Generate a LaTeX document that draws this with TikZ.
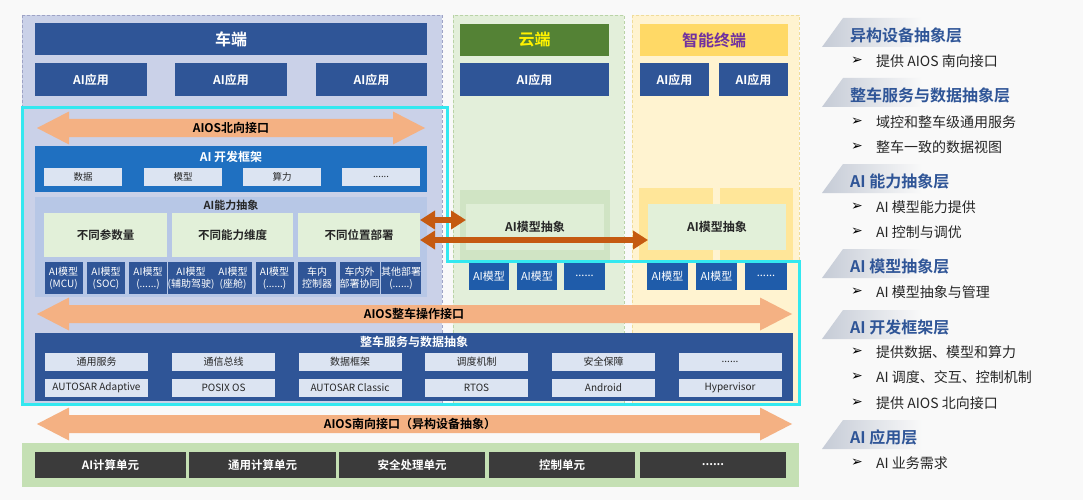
\documentclass[tikz,border=0pt]{standalone}
\usepackage{fontspec}
\setmainfont{Noto Sans CJK SC}[BoldFont={Noto Sans CJK SC Bold}]
\newfontfamily\symfont{DejaVu Sans}
\usetikzlibrary{arrows.meta}
\definecolor{bgwhite}{HTML}{F9F9F9}
\definecolor{carpanel}{HTML}{CAD1E8}
\definecolor{carline}{HTML}{9EA3C6}
\definecolor{cloudpanel}{HTML}{E3EFDA}
\definecolor{cloudline}{HTML}{B9D3A6}
\definecolor{termpanel}{HTML}{FFF3D0}
\definecolor{termline}{HTML}{F0DC9A}
\definecolor{carblue}{HTML}{2F5597}
\definecolor{devblue}{HTML}{1F70C1}
\definecolor{absblue}{HTML}{B7C7E6}
\definecolor{paleblue}{HTML}{DCE4F2}
\definecolor{palegreen}{HTML}{E2F0D9}
\definecolor{cloudhead}{HTML}{548235}
\definecolor{cloudabs}{HTML}{D0E4C4}
\definecolor{termhead}{HTML}{FFD966}
\definecolor{termbar}{HTML}{FFE699}
\definecolor{termtext}{HTML}{7030A0}
\definecolor{modelblue}{HTML}{1F5CAA}
\definecolor{lightorange}{HTML}{F4B183}
\definecolor{darkorange}{HTML}{C55A11}
\definecolor{hwgreen}{HTML}{C5E0B4}
\definecolor{hwdark}{HTML}{3B3B3B}
\definecolor{frame}{HTML}{33E8F0}
\definecolor{darktext}{HTML}{262626}
\definecolor{tabgray}{HTML}{C5CBD6}
\begin{document}
\begin{tikzpicture}[x=1pt, y=-1pt,
  blk/.style={inner sep=0pt, outer sep=0pt, align=center},
  hdr/.style={blk, text=white, font=\bfseries\fontsize{16}{18}\selectfont, minimum height=32pt},
  app/.style={blk, fill=carblue, text=white, font=\bfseries\fontsize{12}{14}\selectfont, minimum height=33pt},
  pale/.style={blk, fill=paleblue, text=darktext, font=\fontsize{9.5}{11}\selectfont, minimum width=78pt, minimum height=18pt},
  ability/.style={blk, fill=palegreen, text=darktext, font=\bfseries\fontsize{11.5}{13}\selectfont, minimum height=44pt},
  model/.style={blk, fill=carblue, text=white, font=\fontsize{10}{12}\selectfont, minimum width=38pt, minimum height=32pt},
  svc/.style={blk, fill=paleblue, text=darktext, font=\fontsize{10}{12}\selectfont, minimum width=103pt, minimum height=18pt},
  hw/.style={blk, fill=hwdark, text=white, font=\bfseries\fontsize{11.5}{13}\selectfont, minimum height=26pt},
  cmodel/.style={blk, fill=modelblue, text=white, font=\fontsize{11}{13}\selectfont, minimum height=28pt},
  absbox/.style={blk, fill=palegreen, text=darktext, font=\bfseries\fontsize{12}{14}\selectfont, minimum width=138pt, minimum height=46pt},
  arrowtext/.style={inner sep=0pt, font=\bfseries\fontsize{12}{14}\selectfont},
  darr/.style={draw=darkorange, line width=6pt, {Triangle[width=18pt,length=15pt]}-{Triangle[width=18pt,length=15pt]}},
  heading/.style={anchor=west, inner sep=0pt, text=carblue, font=\bfseries\fontsize{16}{18}\selectfont},
  legitem/.style={anchor=west, inner sep=0pt, text=darktext, font=\fontsize{14}{16}\selectfont},
  bullet/.style={inner sep=0pt, font=\symfont\fontsize{14}{16}\selectfont}
]
\fill[bgwhite] (0,0) rectangle (1083,500);
\useasboundingbox (0,0) rectangle (1083,500);

% panels
\filldraw[fill=carpanel, draw=carline, densely dashed, line width=0.8pt] (22,15) rectangle (442,404);
\filldraw[fill=cloudpanel, draw=cloudline, densely dashed, line width=0.8pt] (453,15) rectangle (624,404);
\filldraw[fill=termpanel, draw=termline, densely dashed, line width=0.8pt] (632,15) rectangle (799,404);

% vehicle side
\node[hdr, fill=carblue, minimum width=392pt] (car) at (231,39) {车端};
\node[app, minimum width=112pt] (app1) at (91,79.5) {AI应用};
\node[app, minimum width=112pt] (app2) at (231,79.5) {AI应用};
\node[app, minimum width=111pt] (app3) at (371.5,79.5) {AI应用};

\fill[lightorange] (37,128) -- (69,111.5) -- (69,119) -- (393,119) -- (393,111.5) -- (425,128)
  -- (393,144.5) -- (393,137) -- (69,137) -- (69,144.5) -- cycle;
\node[arrowtext] (north) at (231,128) {AIOS北向接口};

\node[blk, fill=devblue, minimum width=392pt, minimum height=46pt] (dev) at (231,169) {};
\node[arrowtext, text=white] (devtitle) at (231,157) {AI 开发框架};
\node[pale] (data) at (83,177) {数据};
\node[pale] (mdl) at (183,177) {模型};
\node[pale] (comp) at (282,177) {算力};
\node[pale] (devmore) at (381,177) {......};

\node[blk, fill=absblue, minimum width=392pt, minimum height=100pt] (ability) at (231,247) {};
\node[arrowtext, text=darktext, font=\bfseries\fontsize{11}{13}\selectfont] (abtitle) at (231,205) {AI能力抽象};
\node[ability, minimum width=123pt] (param) at (105.5,235) {不同参数量};
\node[ability, minimum width=121pt] (dim) at (232.5,235) {不同能力维度};
\node[ability, minimum width=122pt] (loc) at (359,235) {不同位置部署};
\node[model] (m1) at (63.5,278) {AI模型\\(MCU)};
\node[model] (m2) at (106,278) {AI模型\\(SOC)};
\node[model] (m3) at (148,278) {AI模型\\(......)};
\node[model] (m4) at (191,278) {AI模型\\(辅助驾驶)};
\node[model] (m5) at (233,278) {AI模型\\(座舱)};
\node[model] (m6) at (274.5,278) {AI模型\\(......)};
\node[model] (m7) at (317,278) {车内\\控制器};
\node[model] (m8) at (359.5,278) {车内外\\部署协同};
\node[model] (m9) at (401,278) {其他部署\\(......)};

% cloud side
\node[hdr, fill=cloudhead, text=yellow, minimum width=149pt] (cloud) at (534.5,40) {云端};
\node[app, minimum width=149pt] (capp) at (534.5,79.5) {AI应用};
\fill[cloudabs] (460,190) rectangle (610,262);
\node[absbox, fill=palegreen!85!cloudabs] (cabs) at (535,227) {AI模型抽象};
\node[cmodel, minimum width=40pt] (cm1) at (489,276) {AI模型};
\node[cmodel, minimum width=40pt] (cm2) at (537,276) {AI模型};
\node[cmodel, minimum width=41pt] (cm3) at (584.5,276) {......};

% terminal side
\node[hdr, fill=termhead, text=termtext, minimum width=148pt] (term) at (714,40) {智能终端};
\node[app, minimum width=69pt] (tapp1) at (674.5,79.5) {AI应用};
\node[app, minimum width=69pt] (tapp2) at (753.5,79.5) {AI应用};
\fill[termbar] (639,188) rectangle (713,262);
\fill[termbar] (720,188) rectangle (793,262);
\node[absbox] (tabs) at (717,227) {AI模型抽象};
\node[cmodel, minimum width=41pt] (tm1) at (667.5,276) {AI模型};
\node[cmodel, minimum width=41pt] (tm2) at (716.5,276) {AI模型};
\node[cmodel, minimum width=42pt] (tm3) at (766,276) {......};

% vehicle operation interface and services
\fill[lightorange] (37,314) -- (69,297.5) -- (69,305) -- (760,305) -- (760,297.5) -- (792,314)
  -- (760,330.5) -- (760,323) -- (69,323) -- (69,330.5) -- cycle;
\node[arrowtext] (vehapi) at (414,314) {AIOS整车操作接口};

\node[blk, fill=carblue, minimum width=758pt, minimum height=68pt] (svc) at (414,367) {};
\node[arrowtext, text=white] (svctitle) at (414,342) {整车服务与数据抽象};
\node[svc] (s1) at (96.5,362) {通用服务};
\node[svc] (s2) at (223.5,362) {通信总线};
\node[svc] (s3) at (350,362) {数据框架};
\node[svc] (s4) at (476.5,362) {调度机制};
\node[svc] (s5) at (603.5,362) {安全保障};
\node[svc] (s6) at (730,362) {......};
\node[svc] (o1) at (96.5,388) {AUTOSAR Adaptive};
\node[svc] (o2) at (223.5,388) {POSIX OS};
\node[svc] (o3) at (350,388) {AUTOSAR Classic};
\node[svc] (o4) at (476.5,388) {RTOS};
\node[svc] (o5) at (603.5,388) {Android};
\node[svc] (o6) at (730,388) {Hypervisor};

% cyan frame
\draw[frame, line width=3pt, line join=miter] (22,108) -- (447,108) -- (447,261) -- (799,261)
  -- (799,404) -- (22,404) -- cycle;

% southbound interface and hardware
\fill[lightorange] (37,424) -- (69,407.5) -- (69,415) -- (760,415) -- (760,407.5) -- (792,424)
  -- (760,440.5) -- (760,433) -- (69,433) -- (69,440.5) -- cycle;
\node[arrowtext] (south) at (410,424) {AIOS南向接口（异构设备抽象）};

\fill[hwgreen] (22,443) rectangle (799,487);
\node[hw, minimum width=151pt] (hw1) at (110.5,465) {AI计算单元};
\node[hw, minimum width=147pt] (hw2) at (262.5,465) {通用计算单元};
\node[hw, minimum width=146pt] (hw3) at (412,465) {安全处理单元};
\node[hw, minimum width=146pt] (hw4) at (562,465) {控制单元};
\node[hw, minimum width=146pt] (hw5) at (713,465) {......};

% model abstraction links
\draw[darr] (loc.east |- 0,220) -- (cabs.west |- 0,220);
\draw[darr] (loc.east |- 0,240) -- (tabs.west |- 0,240);

% legend
\shade[left color=tabgray, right color=bgwhite] (822,47) -- (843,18) -- (922,18) -- (922,47) -- cycle;
\node[heading] (l1) at (850,35) {异构设备抽象层};
\node[bullet] (b1) at (857,61) {➢};
\node[legitem] (t1) at (876,61) {提供 AIOS 南向接口};

\shade[left color=tabgray, right color=bgwhite] (822,107) -- (843,78) -- (922,78) -- (922,107) -- cycle;
\node[heading] (l2) at (850,95) {整车服务与数据抽象层};
\node[bullet] (b2) at (857,122) {➢};
\node[legitem] (t2) at (876,122) {域控和整车级通用服务};
\node[bullet] (b3) at (857,147) {➢};
\node[legitem] (t3) at (876,147) {整车一致的数据视图};

\shade[left color=tabgray, right color=bgwhite] (822,193) -- (843,164) -- (922,164) -- (922,193) -- cycle;
\node[heading] (l3) at (850,181) {AI 能力抽象层};
\node[bullet] (b4) at (857,207) {➢};
\node[legitem] (t4) at (876,207) {AI 模型能力提供};
\node[bullet] (b5) at (857,232) {➢};
\node[legitem] (t5) at (876,232) {AI 控制与调优};

\shade[left color=tabgray, right color=bgwhite] (822,278) -- (843,249) -- (922,249) -- (922,278) -- cycle;
\node[heading] (l4) at (850,266) {AI 模型抽象层};
\node[bullet] (b6) at (857,292) {➢};
\node[legitem] (t6) at (876,292) {AI 模型抽象与管理};

\shade[left color=tabgray, right color=bgwhite] (822,339) -- (843,310) -- (922,310) -- (922,339) -- cycle;
\node[heading] (l5) at (850,327) {AI 开发框架层};
\node[bullet] (b7) at (857,352) {➢};
\node[legitem] (t7) at (876,352) {提供数据、模型和算力};
\node[bullet] (b8) at (857,377) {➢};
\node[legitem] (t8) at (876,377) {AI 调度、交互、控制机制};
\node[bullet] (b9) at (857,403) {➢};
\node[legitem] (t9) at (876,403) {提供 AIOS 北向接口};

\shade[left color=tabgray, right color=bgwhite] (822,449) -- (843,420) -- (922,420) -- (922,449) -- cycle;
\node[heading] (l6) at (850,437) {AI 应用层};
\node[bullet] (b10) at (857,463) {➢};
\node[legitem] (t10) at (876,463) {AI 业务需求};
\end{tikzpicture}
\end{document}
